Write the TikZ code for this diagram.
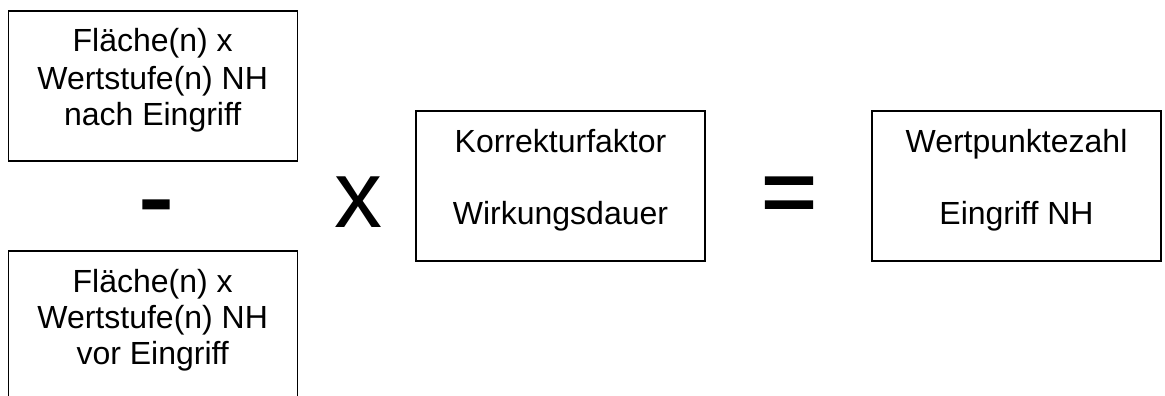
\documentclass[tikz,border=0pt]{standalone}
\usepackage{fontspec}
\setmainfont{Liberation Sans}
\newfontfamily\opbold[FakeBold=1.5]{Liberation Sans}
\begin{document}
\begin{tikzpicture}[x=1pt,y=-1pt,
  box/.style={draw=black,line width=1.4pt,minimum width=289pt,minimum height=150pt,inner sep=0pt},
  txt/.style={anchor=base,inner sep=0pt,font=\fontsize{32}{36}\selectfont},
  op/.style={inner sep=0pt,font=\fontsize{96}{110}\selectfont}]
\useasboundingbox (0,0) rectangle (1165,396);
\clip (0,0) rectangle (1165,396);
\node[box] (b1) at (152.7,86) {};
\node[box] (b2) at (152.7,326) {};
\node[box] (b3) at (560.5,186) {};
\node[box] (b4) at (1016.5,186) {};
\node[txt] (t11) at (152.7,52) {Fläche(n) x};
\node[txt] (t12) at (152.7,89) {Wertstufe(n) NH};
\node[txt] (t13) at (152.7,125) {nach Eingriff};
\node[txt] (t21) at (152.7,292) {Fläche(n) x};
\node[txt] (t22) at (152.7,328) {Wertstufe(n) NH};
\node[txt] (t23) at (152.7,364) {vor Eingriff};
\node[txt] (t31) at (560.5,152) {Korrekturfaktor};
\node[txt] (t32) at (560.5,224) {Wirkungsdauer};
\node[txt] (t41) at (1016.5,152) {Wertpunktezahl};
\node[txt] (t42) at (1016.5,224) {Eingriff NH};
\node[op,anchor=north,font=\fontsize{106}{120}\opbold] (minus) at (156,200) {-};
\node[op,anchor=base] (times) at (358.5,227) {x};
\node[op,anchor=north,font=\fontsize{96}{110}\opbold] (equals) at (789,177) {=};
\end{tikzpicture}
\end{document}
